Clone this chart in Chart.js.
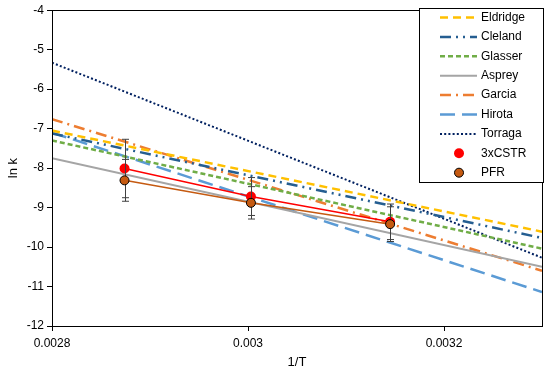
<!DOCTYPE html>
<html>
<head>
<meta charset="utf-8">
<script src="https://cdn.jsdelivr.net/npm/chart.js@4"></script>
<style>
  html, body { margin: 0; padding: 0; background: #fff; }
  #wrap { width: 550px; height: 370px; }
</style>
</head>
<body>
<div id="wrap"><canvas id="myChart"></canvas></div>
<script>
// x range of the model lines (1/T)
const xEnds = [0.0028, 0.0033];
const xTicks = [0.0028, 0.003, 0.0032];
const yTicks = [-12, -11, -10, -9, -8, -7, -6, -5, -4];

// ln k of each model at the two ends
const eldridge = [-7.05, -9.61];
const cleland = [-7.12, -9.77];
const glasser = [-7.30, -10.04];
const asprey = [-7.75, -10.50];
const garcia = [-6.76, -10.60];
const hirota = [-7.10, -11.14];
const torraga = [-5.33, -10.27];

// experimental points
const expX = [0.002874, 0.003003, 0.003145];
const cstr = [-8.01, -8.72, -9.36];
const cstrErr = [0.74, 0.48, 0.45];
const pfr = [-8.31, -8.88, -9.42];
const pfrErr = [0.53, 0.41, 0.44];

const FONT = '"Liberation Sans", Arial, sans-serif';

function pts(xs, ys) {
    return xs.map((x, i) => ({ x: x, y: ys[i] }));
}

function modelLine(label, ys, color, dash, width, order) {
    return {
        label: label,
        data: pts(xEnds, ys),
        borderColor: color,
        backgroundColor: color,
        borderWidth: width,
        borderDash: dash,
        borderCapStyle: 'butt',
        pointRadius: 0,
        showLine: true,
        fill: false,
        order: order
    };
}

const datasets = [
    {
        label: 'PFR', data: pts(expX, pfr), errors: pfrErr,
        borderColor: '#C55A11', borderWidth: 1.5, showLine: true,
        pointRadius: 4.5, pointBackgroundColor: '#C55A11',
        pointBorderColor: '#000', pointBorderWidth: 1, order: 0
    },
    {
        label: '3xCSTR', data: pts(expX, cstr), errors: cstrErr,
        borderColor: '#FF0000', borderWidth: 1.5, showLine: true,
        pointRadius: 5, pointBackgroundColor: '#FF0000',
        pointBorderColor: '#FF0000', pointBorderWidth: 0, order: 1
    },
    modelLine('Eldridge', eldridge, '#FFC000', [8, 5], 2.5, 2),
    modelLine('Cleland', cleland, '#255E91', [11, 5, 2, 5, 2, 5], 2.5, 3),
    modelLine('Glasser', glasser, '#70AD47', [5, 3], 2.5, 4),
    modelLine('Asprey', asprey, '#A5A5A5', [], 2, 5),
    modelLine('Garcia', garcia, '#ED7D31', [11, 5, 2, 5], 2.5, 6),
    modelLine('Hirota', hirota, '#5B9BD5', [15, 7], 2.5, 7),
    modelLine('Torraga', torraga, '#002060', [2, 2.2], 2, 8)
];

const legendOrder = ['Eldridge', 'Cleland', 'Glasser', 'Asprey', 'Garcia', 'Hirota', 'Torraga', '3xCSTR', 'PFR'];

// error bars drawn just before their own points
const errorBars = {
    id: 'errorBars',
    beforeDatasetDraw(chart, args) {
        const ds = chart.data.datasets[args.index];
        if (!ds.errors) return;
        const ctx = chart.ctx;
        const xs = chart.scales.x, ys = chart.scales.y;
        ctx.save();
        ctx.strokeStyle = '#404040';
        ctx.lineWidth = 1;
        ds.data.forEach((p, i) => {
            const px = Math.round(xs.getPixelForValue(p.x)) + 0.5;
            const top = ys.getPixelForValue(p.y + ds.errors[i]);
            const bot = ys.getPixelForValue(p.y - ds.errors[i]);
            ctx.beginPath();
            ctx.moveTo(px, top); ctx.lineTo(px, bot);
            ctx.moveTo(px - 3.5, top); ctx.lineTo(px + 3.5, top);
            ctx.moveTo(px - 3.5, bot); ctx.lineTo(px + 3.5, bot);
            ctx.stroke();
        });
        ctx.restore();
    }
};

// plot frame + legend box in the top right corner
const frameAndLegend = {
    id: 'frameAndLegend',
    afterDraw(chart) {
        const ctx = chart.ctx;
        const a = chart.chartArea;
        ctx.save();
        ctx.strokeStyle = '#000';
        ctx.lineWidth = 1;
        ctx.strokeRect(Math.round(a.left) + 0.5, Math.round(a.top) + 0.5,
            Math.round(a.right - a.left), Math.round(a.bottom - a.top));

        const bx = 419.5, by = 8.5, bw = 124, bh = 174;
        ctx.fillStyle = '#fff';
        ctx.fillRect(bx, by, bw, bh);
        ctx.strokeRect(bx, by, bw, bh);

        ctx.font = '12px ' + FONT;
        ctx.textBaseline = 'middle';
        legendOrder.forEach((name, i) => {
            const ds = chart.data.datasets.find(d => d.label === name);
            const y = by + 9 + i * 19.4;
            if (ds.errors) {
                ctx.beginPath();
                ctx.arc(459, y, ds.pointRadius, 0, Math.PI * 2);
                ctx.fillStyle = ds.pointBackgroundColor;
                ctx.fill();
                if (ds.pointBorderWidth) {
                    ctx.strokeStyle = ds.pointBorderColor;
                    ctx.lineWidth = ds.pointBorderWidth;
                    ctx.stroke();
                }
            } else {
                ctx.beginPath();
                ctx.setLineDash(ds.borderDash);
                ctx.strokeStyle = ds.borderColor;
                ctx.lineWidth = ds.borderWidth;
                ctx.moveTo(440, y);
                ctx.lineTo(477, y);
                ctx.stroke();
                ctx.setLineDash([]);
            }
            ctx.fillStyle = '#000';
            ctx.fillText(name, 481, y);
        });
        ctx.restore();
    }
};

function renderChart() {
    const ctx = document.getElementById('myChart');
    new Chart(ctx, {
        type: 'scatter',
        data: { datasets: datasets },
        plugins: [errorBars, frameAndLegend],
        options: {
            responsive: true,
            maintainAspectRatio: false,
            animation: false,
            layout: { padding: { top: 7, right: 8, left: 0, bottom: 0 } },
            plugins: { legend: { display: false }, tooltip: { enabled: false } },
            scales: {
                x: {
                    type: 'linear',
                    min: 0.0028,
                    max: 0.0033,
                    afterBuildTicks: (s) => { s.ticks = xTicks.map(v => ({ value: v })); },
                    afterFit: (s) => { s.height = 44; },
                    grid: { drawOnChartArea: false, color: '#000', tickLength: 5 },
                    border: { color: '#000' },
                    ticks: {
                        color: '#000', font: { family: FONT, size: 12 }, padding: 5,
                        maxRotation: 0,
                        callback: (v) => String(Number(v.toFixed(4)))
                    },
                    title: {
                        display: true, text: '1/T', color: '#000',
                        font: { family: FONT, size: 13 }, padding: { top: 5, bottom: 0 }
                    }
                },
                y: {
                    min: -12,
                    max: -4,
                    afterBuildTicks: (s) => { s.ticks = yTicks.map(v => ({ value: v })); },
                    afterFit: (s) => { s.width = 52; },
                    grid: { drawOnChartArea: false, color: '#000', tickLength: 5 },
                    border: { color: '#000' },
                    ticks: { color: '#000', font: { family: FONT, size: 12 }, padding: 3 },
                    title: {
                        display: true, text: 'ln k', color: '#000',
                        font: { family: FONT, size: 13 }, padding: { top: 6, bottom: 2 }
                    }
                }
            }
        }
    });
}

renderChart();
</script>
</body>
</html>
